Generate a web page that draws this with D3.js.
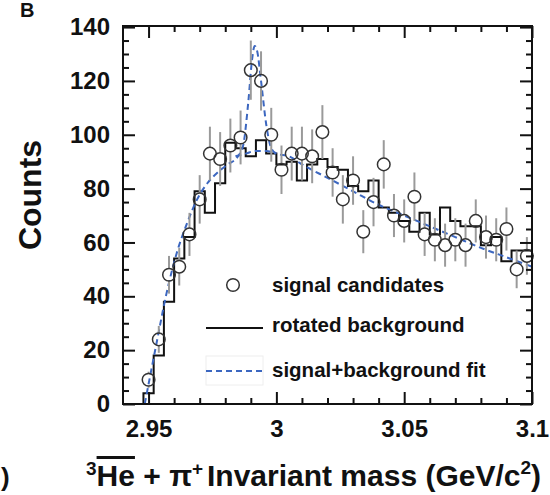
<!DOCTYPE html>
<html><head><meta charset="utf-8">
<script src="https://cdn.jsdelivr.net/npm/d3@7"></script>
<style>
body{margin:0;background:#fff}
svg text{font-family:"Liberation Sans",Arial,Helvetica,sans-serif;font-weight:bold;fill:#111}
</style>
</head><body>
<svg id="chart" width="550" height="495"></svg>
<script>
// ---- data ----
const binCenters = [2.950,2.954,2.958,2.962,2.966,2.970,2.974,2.978,2.982,2.986,
  2.990,2.994,2.998,3.002,3.006,3.010,3.014,3.018,3.022,3.026,
  3.030,3.034,3.038,3.042,3.046,3.050,3.054,3.058,3.062,3.066,
  3.070,3.074,3.078,3.082,3.086,3.090,3.094,3.098];
const binWidth = 0.004;
const signalCounts = [9,24,48,51,63,76,93,91,96,99,
  124,120,100,87,93,93,92,101,86,76,
  83,64,75,89,70,68,77,63,61,59,
  61,59,68,62,61,65,50,55];
const signalErrors = [3,5,7,7,8,9,10,10,10,10,
  11,11,10,9,10,10,10,10,9,9,
  9,8,9,9,8,8,9,8,8,8,
  8,8,8,8,8,8,7,7];
const rotatedBackground = [4,18,38,54,62,79,71,82,97,95,
  92,98,93,89,90,83,89,91,88,87,
  81,79,83,73,71,68,64,71,63,73,
  68,66,66,59,62,53,57,57];
const fitMass = [2.9485,2.953,2.957,2.961,2.965,2.969,2.973,2.977,2.981,2.985,2.987,2.989,2.9905,2.9915,2.9925,2.994,2.996,2.998,3.000,
  3.005,3.010,3.020,3.030,3.040,3.050,3.060,3.070,3.080,3.090,3.100];
const fitCounts = [0,22,41,56,67,76,82,86,89,92,96,112,128,133,131,120,104,95,93,
  92,89,84,79,74,70,66,62,58,54.5,51];
const bgUnderPeakMass = [2.984,2.988,2.992,2.996,3.000];
const bgUnderPeakCounts = [92,93,94,94,93];
const xMajorTicks = [2.95,3.00,3.05,3.10];
const xMinorTicks = [2.96,2.97,2.98,2.99,3.01,3.02,3.03,3.04,3.06,3.07,3.08,3.09];
const yMajorTicks = [0,20,40,60,80,100,120,140];
const yMinorTicks = [5,10,15,25,30,35,45,50,55,65,70,75,85,90,95,105,110,115,125,130,135];
const legendLabels = ["signal candidates","rotated background","signal+background fit"];

// ---- layout ----
const L = 123, R = 532, T = 26, B = 404;
const svg = d3.select("#chart");
const x = d3.scaleLinear().domain([2.94, 3.10]).range([L, R]);
const y = d3.scaleLinear().domain([0, 140.4]).range([B, T]);
const fitBlue = "#3c67c0";

// histogram step outline
const histPts = [[binCenters[0]-binWidth/2, 0]];
binCenters.forEach((c,i)=>{
  histPts.push([c-binWidth/2, rotatedBackground[i]]);
  histPts.push([c+binWidth/2, rotatedBackground[i]]);
});
svg.append("path")
  .attr("d", d3.line().x(d=>x(d[0])).y(d=>y(d[1]))(histPts))
  .attr("fill","none").attr("stroke","#111").attr("stroke-width",2);

// fit curves
const fitLine = d3.line().x(d=>x(d[0])).y(d=>y(d[1])).curve(d3.curveMonotoneX);
svg.append("path")
  .attr("d", fitLine(fitMass.map((m,i)=>[m,fitCounts[i]])))
  .attr("fill","none").attr("stroke",fitBlue).attr("stroke-width",2).attr("stroke-dasharray","6,4");
svg.append("path")
  .attr("d", fitLine(bgUnderPeakMass.map((m,i)=>[m,bgUnderPeakCounts[i]])))
  .attr("fill","none").attr("stroke",fitBlue).attr("stroke-width",2).attr("stroke-dasharray","6,4");

// error bars + markers
const r = 6.3;
const pts = svg.append("g");
binCenters.forEach((c,i)=>{
  const cx = x(c), cy = y(signalCounts[i]);
  const top = y(signalCounts[i]+signalErrors[i]), bot = y(signalCounts[i]-signalErrors[i]);
  if (cy - r > top) pts.append("line").attr("x1",cx).attr("x2",cx).attr("y1",top).attr("y2",cy-r)
      .attr("stroke","#9a9a9a").attr("stroke-width",2);
  if (bot > cy + r) pts.append("line").attr("x1",cx).attr("x2",cx).attr("y1",cy+r).attr("y2",bot)
      .attr("stroke","#9a9a9a").attr("stroke-width",2);
  pts.append("circle").attr("cx",cx).attr("cy",cy).attr("r",r)
    .attr("fill","none").attr("stroke","#333").attr("stroke-width",1.5);
});

// axes (inward ticks)
function styleAxis(g){ g.select(".domain").remove(); g.selectAll("line").attr("stroke","#111").attr("stroke-width",2);
  g.selectAll("text").attr("font-size",24).attr("font-family",null).attr("fill","#111"); }
const fmtX = d => String(+d.toFixed(2));
svg.append("g").attr("transform",`translate(0,${B})`)
  .call(d3.axisBottom(x).tickValues(xMajorTicks).tickSize(-12).tickPadding(16).tickFormat(fmtX)).call(styleAxis);
svg.append("g").attr("transform",`translate(0,${B})`)
  .call(d3.axisBottom(x).tickValues(xMinorTicks).tickSize(-6).tickFormat("")).call(styleAxis);
svg.append("g").attr("transform",`translate(0,${T})`)
  .call(d3.axisTop(x).tickValues(xMajorTicks).tickSize(-12).tickFormat("")).call(styleAxis);
svg.append("g").attr("transform",`translate(0,${T})`)
  .call(d3.axisTop(x).tickValues(xMinorTicks).tickSize(-6).tickFormat("")).call(styleAxis);
svg.append("g").attr("transform",`translate(${L},0)`)
  .call(d3.axisLeft(y).tickValues(yMajorTicks).tickSize(-12).tickPadding(13).tickFormat(d3.format("d"))).call(styleAxis);
svg.append("g").attr("transform",`translate(${L},0)`)
  .call(d3.axisLeft(y).tickValues(yMinorTicks).tickSize(-6).tickFormat("")).call(styleAxis);
svg.append("g").attr("transform",`translate(${R},0)`)
  .call(d3.axisRight(y).tickValues(yMajorTicks).tickSize(-12).tickFormat("")).call(styleAxis);
svg.append("g").attr("transform",`translate(${R},0)`)
  .call(d3.axisRight(y).tickValues(yMinorTicks).tickSize(-6).tickFormat("")).call(styleAxis);

// frame
svg.append("rect").attr("x",L).attr("y",T).attr("width",R-L).attr("height",B-T)
  .attr("fill","none").attr("stroke","#111").attr("stroke-width",2);

// legend
const lg = svg.append("g");
lg.append("circle").attr("cx",233).attr("cy",285).attr("r",r).attr("fill","none").attr("stroke","#333").attr("stroke-width",1.5);
lg.append("line").attr("x1",206).attr("x2",263).attr("y1",328).attr("y2",328).attr("stroke","#111").attr("stroke-width",2);
lg.append("rect").attr("x",206).attr("y",356).attr("width",57).attr("height",29).attr("fill","none").attr("stroke","#eeeeee").attr("stroke-width",1);
lg.append("line").attr("x1",206).attr("x2",263).attr("y1",371).attr("y2",371).attr("stroke",fitBlue).attr("stroke-width",2).attr("stroke-dasharray","6,4");
[292,332,377].forEach((yy,i)=>{
  lg.append("text").attr("x",272).attr("y",yy).attr("font-size",20.5).text(legendLabels[i]);
});

// axis titles
svg.append("text").attr("transform","translate(41,195) rotate(-90)").attr("text-anchor","middle")
  .attr("font-size",32).text("Counts");
const xt = svg.append("text").attr("x",86).attr("y",486).attr("font-size",30);
xt.append("tspan").attr("font-size",19).attr("dy",-11).text("3");
xt.append("tspan").attr("dy",11).attr("text-decoration","overline").text("He");
xt.append("tspan").text(" + π");
xt.append("tspan").attr("font-size",19).attr("dy",-11).text("+");
svg.append("text").attr("x",207).attr("y",486).attr("font-size",30)
  .call(t=>{ t.append("tspan").text("Invariant mass (GeV/c");
             t.append("tspan").attr("font-size",19).attr("dy",-12).text("2");
             t.append("tspan").attr("dy",12).text(")"); });

// panel labels
svg.append("text").attr("x",20).attr("y",17).attr("font-size",20).text("B");
svg.append("text").attr("x",1).attr("y",486).attr("font-size",26).text(")");
</script>
</body></html>
